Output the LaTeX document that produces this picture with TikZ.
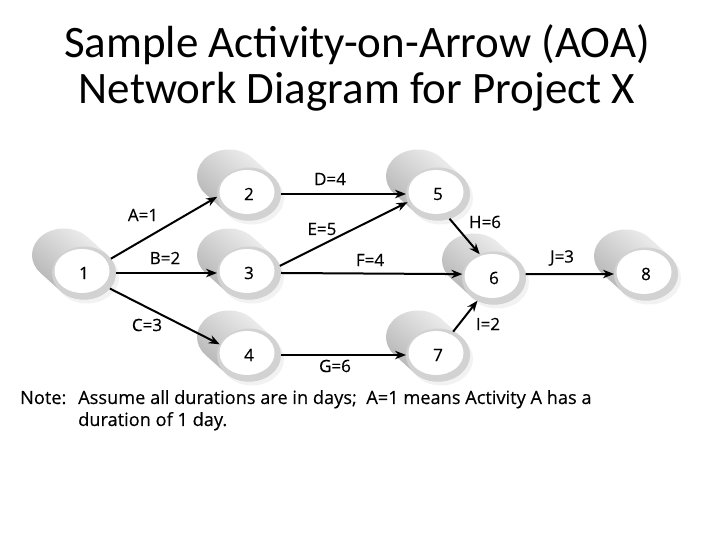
\documentclass[tikz,border=0pt]{standalone}
\usepackage{fontspec}
\setmainfont{Open Sans}[FakeBold=0.35]
\newfontfamily\titlefont{Carlito}
\usetikzlibrary{shapes.geometric,arrows.meta}
\newcommand\cylnode[4]{%
  \fill[gray!10] ({#2+3},{#3-4}) ellipse[x radius=32, y radius=26.5];
  \shade[top color=gray!8, bottom color=gray!62, shading angle=-40]
    ({#2-23.55},{#3-17.94}) arc[start angle=222.6, end angle=402.6, x radius=32, y radius=26.5]
    -- ({#2-20+23.55},{#3+18+17.94}) arc[start angle=42.6, end angle=222.6, x radius=32, y radius=26.5] -- cycle;
  \fill[ring] (#2,#3) ellipse[x radius=32, y radius=26.5];
  \fill[white] ({#2-2},{#3+2}) ellipse[x radius=27.5, y radius=22];
  \node[front] (#1) at (#2,#3) {#4};}
\begin{document}
\begin{tikzpicture}[x=1pt,y=1pt,
  ring/.style={gray!35},
  front/.style={ellipse, minimum width=64pt, minimum height=53pt, inner sep=0pt, outer sep=0pt,
    font=\fontsize{17}{20}\selectfont},
  act/.style={line width=2pt, -{Stealth[length=11pt,width=8.5pt]}},
  lab/.style={font=\fontsize{17}{20}\selectfont, inner sep=0pt},
  ttl/.style={font=\titlefont\fontsize{45}{52}\selectfont, inner sep=0pt},
  note/.style={font=\fontsize{18.2}{22}\selectfont, inner sep=0pt, anchor=base west}]
\useasboundingbox (0,0) rectangle (720,540);
\fill[white] (0,0) rectangle (720,540);
\node[ttl] (t1) at (357,495) {Sample Activity-on-Arrow (AOA)};
\node[ttl] (t2) at (357,448) {Network Diagram for Project X};
\cylnode{n1}{84}{267}{1}
\cylnode{n2}{249}{346}{2}
\cylnode{n3}{249}{267}{3}
\cylnode{n4}{249}{185}{4}
\cylnode{n5}{438}{346}{5}
\cylnode{n6}{494}{262}{6}
\cylnode{n7}{438}{185}{7}
\cylnode{n8}{646}{266}{8}
\draw[act] (n1.28) -- (n2.185);
\draw[act] (n1.0) -- (n3.180);
\draw[act] (n1.-31) -- (n4.160);
\draw[act] (n2.0) -- (n5.180);
\draw[act] (n3.13) -- (n5.195);
\draw[act] (n3.0) -- (n6.173);
\draw[act] (n4.0) -- (n7.180);
\draw[act] (n5.-65) -- (n6.121);
\draw[act] (n7.57) -- (n6.234);
\draw[act] (n6.7) -- (n8.180);
\node[lab] (la) at (143,325) {A=1};
\node[lab] (lb) at (165,282) {B=2};
\node[lab] (lc) at (147,215) {C=3};
\node[lab] (ld) at (330,361) {D=4};
\node[lab] (le) at (322,311) {E=5};
\node[lab] (lf) at (370,280) {F=4};
\node[lab] (lg) at (335,174) {G=6};
\node[lab] (lh) at (485,318) {H=6};
\node[lab] (li) at (488,216) {I=2};
\node[lab] (lj) at (562,282) {J=3};
\node[note] (nt) at (20,136) {Note:};
\node[note] (n1l) at (78,136) {Assume all durations are in days;\ \ A=1 means Activity A has a};
\node[note] (n2l) at (78,114) {duration of 1 day.};
\end{tikzpicture}
\end{document}
